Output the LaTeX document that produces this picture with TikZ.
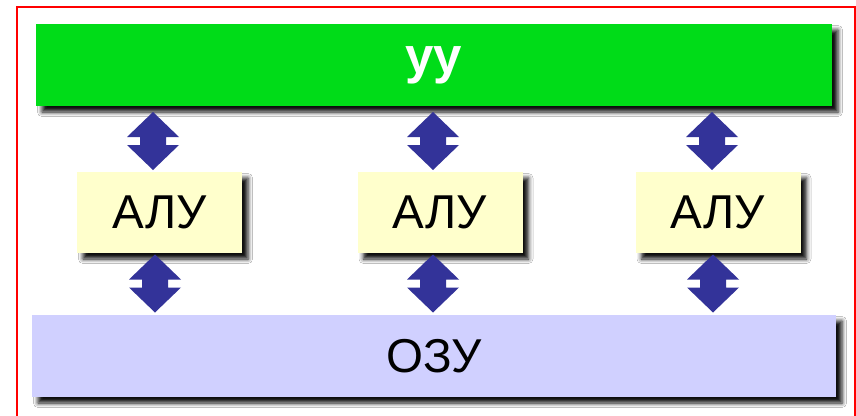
\documentclass[tikz,border=0pt]{standalone}
\usepackage{fontspec}
\setmainfont{Liberation Sans}
\usetikzlibrary{shadows.blur}
\definecolor{uugreen}{RGB}{0,220,24}
\definecolor{aluyellow}{RGB}{255,255,204}
\definecolor{ozublue}{RGB}{208,208,255}
\definecolor{arrowblue}{RGB}{51,51,153}
\begin{document}
\begin{tikzpicture}[x=1pt,y=-1pt,
  boxshadow/.style={blur shadow={shadow xshift=6pt, shadow yshift=-6pt, shadow blur radius=4.5pt, shadow opacity=95}},
  basebox/.style={rectangle, inner sep=0pt, outer sep=0pt, boxshadow},
  uubox/.style={basebox, fill=uugreen, minimum width=796pt, minimum height=82pt, text=white, font=\fontsize{51}{55}\selectfont\bfseries},
  alubox/.style={basebox, fill=aluyellow, minimum width=165pt, minimum height=81pt, font=\fontsize{47.5}{52}\selectfont},
  ozubox/.style={basebox, fill=ozublue, minimum width=804pt, minimum height=82pt, font=\fontsize{47.5}{52}\selectfont},
  dblarrow/.pic={
    \fill[arrowblue] (0,-29) -- (26,-4) -- (13,-4) -- (13,4) -- (26,4) -- (0,29)
      -- (-26,4) -- (-13,4) -- (-13,-4) -- (-26,-4) -- cycle;
  }
]
\useasboundingbox (0,0) rectangle (856,415);
\fill[white] (0,0) rectangle (856,415);
\draw[red, line width=2pt] (17,7) rectangle (855,425);

\node[uubox] (uu) at (434,65) {уу};
\node[alubox] (alu1) at (159.5,212.5) {АЛУ};
\node[alubox] (alu2) at (440,212.5) {АЛУ};
\node[alubox] (alu3) at (718,212.5) {АЛУ};
\node[ozubox] (ozu) at (434,356) {ОЗУ};

\coordinate (a1) at (153,141);
\coordinate (a2) at (433,141);
\coordinate (a3) at (712,141);
\coordinate (b1) at (155,283.5);
\coordinate (b2) at (433,283.5);
\coordinate (b3) at (713,283.5);
\foreach \c in {a1,a2,a3,b1,b2,b3} {
  \path (\c) pic {dblarrow};
}
\end{tikzpicture}
\end{document}
